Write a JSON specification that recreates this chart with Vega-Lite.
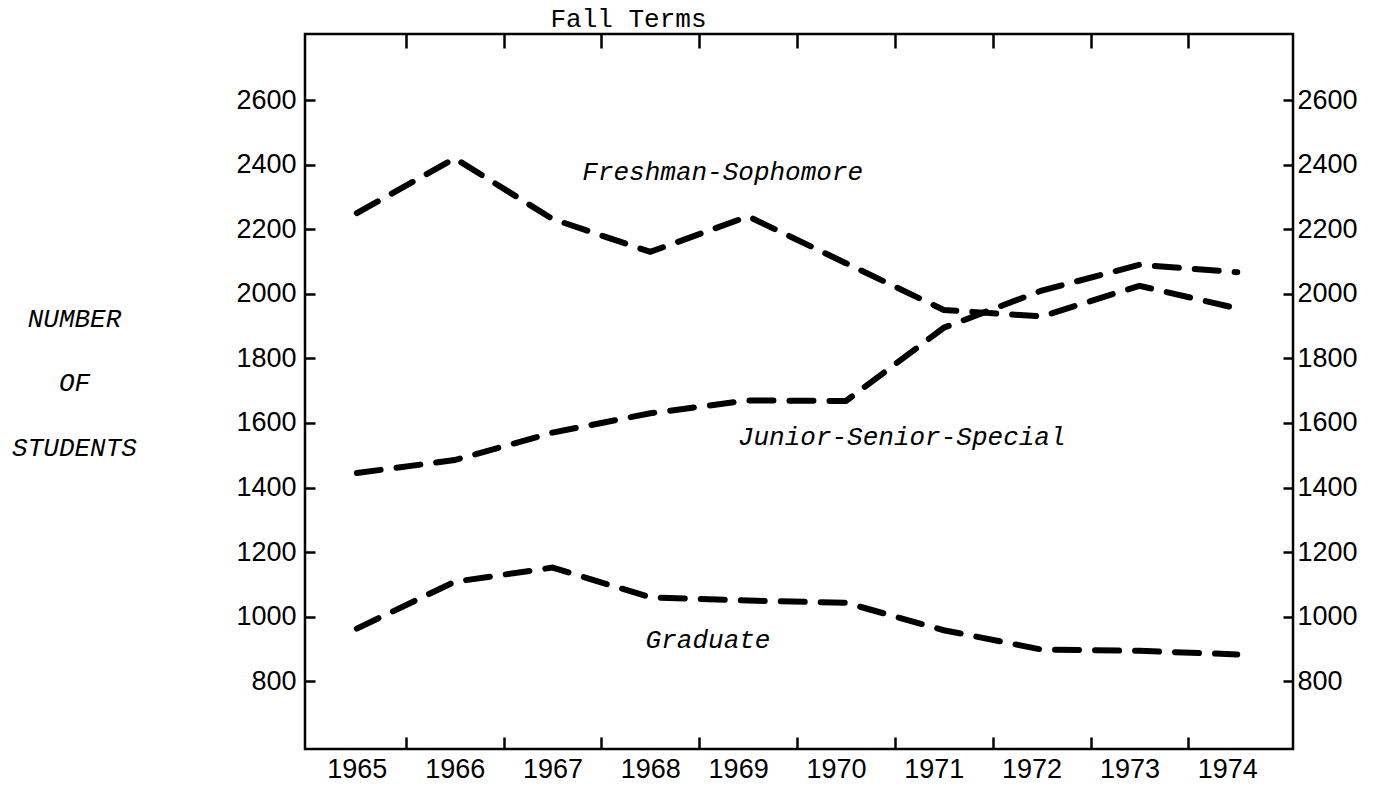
{
  "$schema": "https://vega.github.io/schema/vega-lite/v6.json",
  "width": 988,
  "height": 715,
  "autosize": "none",
  "padding": {"left": 305, "top": 34, "right": 84, "bottom": 38},
  "background": "white",
  "config": {
    "view": {"stroke": "black", "strokeWidth": 2.5},
    "axis": {"labelColor": "black", "tickColor": "black", "grid": false, "domain": false, "labelFlush": false, "labelOverlap": false}
  },
  "datasets": {
    "enrollment": [
      {"series": "Freshman-Sophomore", "year": 1965, "students": 2250},
      {"series": "Freshman-Sophomore", "year": 1966, "students": 2420},
      {"series": "Freshman-Sophomore", "year": 1967, "students": 2232},
      {"series": "Freshman-Sophomore", "year": 1968, "students": 2130},
      {"series": "Freshman-Sophomore", "year": 1969, "students": 2240},
      {"series": "Freshman-Sophomore", "year": 1970, "students": 2095},
      {"series": "Freshman-Sophomore", "year": 1971, "students": 1950},
      {"series": "Freshman-Sophomore", "year": 1972, "students": 1930},
      {"series": "Freshman-Sophomore", "year": 1973, "students": 2025},
      {"series": "Freshman-Sophomore", "year": 1974, "students": 1955},
      {"series": "Junior-Senior-Special", "year": 1965, "students": 1445},
      {"series": "Junior-Senior-Special", "year": 1966, "students": 1485},
      {"series": "Junior-Senior-Special", "year": 1967, "students": 1570},
      {"series": "Junior-Senior-Special", "year": 1968, "students": 1630},
      {"series": "Junior-Senior-Special", "year": 1969, "students": 1670},
      {"series": "Junior-Senior-Special", "year": 1970, "students": 1668},
      {"series": "Junior-Senior-Special", "year": 1971, "students": 1895},
      {"series": "Junior-Senior-Special", "year": 1972, "students": 2010},
      {"series": "Junior-Senior-Special", "year": 1973, "students": 2090},
      {"series": "Junior-Senior-Special", "year": 1974, "students": 2067},
      {"series": "Graduate", "year": 1965, "students": 963},
      {"series": "Graduate", "year": 1966, "students": 1108},
      {"series": "Graduate", "year": 1967, "students": 1152},
      {"series": "Graduate", "year": 1968, "students": 1060},
      {"series": "Graduate", "year": 1969, "students": 1050},
      {"series": "Graduate", "year": 1970, "students": 1043},
      {"series": "Graduate", "year": 1971, "students": 958},
      {"series": "Graduate", "year": 1972, "students": 898},
      {"series": "Graduate", "year": 1973, "students": 894},
      {"series": "Graduate", "year": 1974, "students": 883}
    ],
    "labels": [
      {"label": "Freshman-Sophomore", "year": 1968.74, "students": 2353},
      {"label": "Junior-Senior-Special", "year": 1970.57, "students": 1532},
      {"label": "Graduate", "year": 1968.59, "students": 902}
    ]
  },
  "layer": [
    {
      "data": {"name": "enrollment"},
      "mark": {"type": "line", "color": "black", "strokeWidth": 6, "strokeDash": [24, 16], "strokeCap": "round"},
      "encoding": {
        "x": {
          "field": "year", "type": "quantitative",
          "scale": {"domain": [1964.47, 1974.57], "nice": false, "zero": false},
          "axis": {
            "orient": "bottom", "values": [1965, 1966, 1967, 1968, 1969, 1970, 1971, 1972, 1973, 1974],
            "format": "d", "ticks": false, "labelFont": "Liberation Sans", "labelFontSize": 27, "labelPadding": 7,
            "labelOffset": {"condition": {"test": "datum.value < 1968.5", "value": 0}, "value": -10},
            "title": null
          }
        },
        "y": {
          "field": "students", "type": "quantitative",
          "scale": {"domain": [590, 2805], "nice": false, "zero": false},
          "axis": {
            "orient": "left", "values": [800, 1000, 1200, 1400, 1600, 1800, 2000, 2200, 2400, 2600],
            "format": "d", "tickSize": -10, "tickWidth": 2.5, "labelPadding": 19,
            "labelFont": "Liberation Sans", "labelFontSize": 27,
            "title": ["NUMBER", "OF", "STUDENTS"], "titleAngle": 0, "titleX": -231, "titleY": 284,
            "titleAlign": "center", "titleBaseline": "middle", "titleFont": "Liberation Mono",
            "titleFontStyle": "italic", "titleFontWeight": "normal", "titleFontSize": 26,
            "titleLineHeight": 64.5, "titleColor": "black"
          }
        },
        "detail": {"field": "series"}
      }
    },
    {
      "data": {"name": "labels"},
      "mark": {"type": "text", "font": "Liberation Mono", "fontStyle": "italic", "fontSize": 26, "align": "center", "baseline": "alphabetic", "color": "black"},
      "encoding": {
        "x": {
          "field": "year", "type": "quantitative",
          "axis": {
            "orient": "bottom", "values": [1965.5, 1966.5, 1967.5, 1968.5, 1969.5, 1970.5, 1971.5, 1972.5, 1973.5],
            "labels": false, "tickSize": -12, "tickWidth": 2.5, "title": null
          }
        },
        "y": {
          "field": "students", "type": "quantitative",
          "axis": {
            "orient": "right", "values": [800, 1000, 1200, 1400, 1600, 1800, 2000, 2200, 2400, 2600],
            "format": "d", "tickSize": -10, "tickWidth": 2.5, "labelPadding": 14,
            "labelFont": "Liberation Sans", "labelFontSize": 27, "title": null
          }
        },
        "text": {"field": "label"}
      }
    },
    {
      "data": {"name": "enrollment"},
      "mark": {"type": "point", "opacity": 0},
      "encoding": {
        "x": {
          "field": "year", "type": "quantitative",
          "axis": {
            "orient": "top", "values": [1965.5, 1966.5, 1967.5, 1968.5, 1969.5, 1970.5, 1971.5, 1972.5, 1973.5],
            "labels": false, "tickSize": -14, "tickWidth": 2.5,
            "title": "Fall Terms", "titleX": 245, "titleY": -8, "titleAlign": "left", "titleBaseline": "alphabetic",
            "titleFont": "Liberation Mono", "titleFontSize": 26, "titleFontWeight": "normal", "titleColor": "black"
          }
        },
        "y": {"field": "students", "type": "quantitative", "axis": null}
      }
    }
  ],
  "resolve": {"axis": {"x": "independent", "y": "independent"}}
}
